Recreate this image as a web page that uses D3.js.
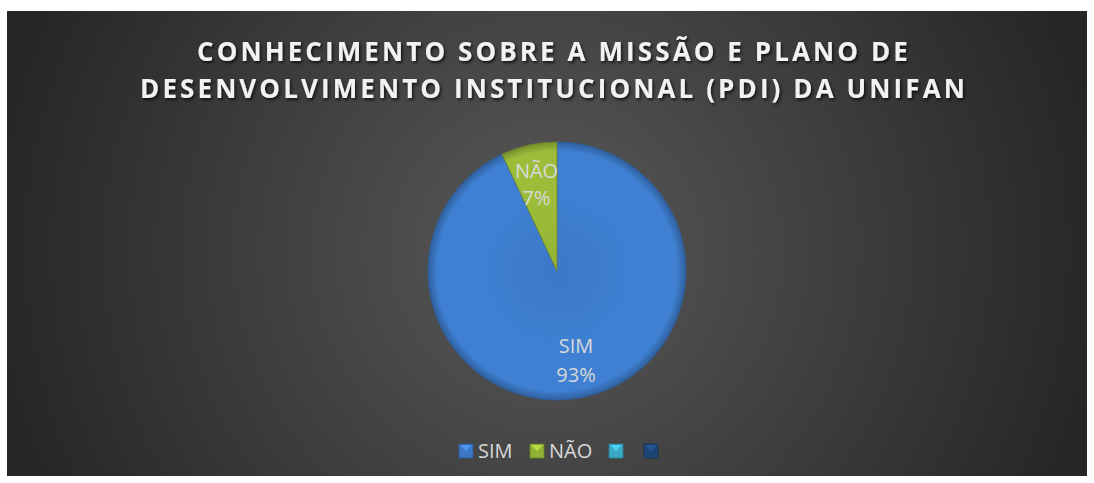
<!DOCTYPE html>
<html><head><meta charset="utf-8">
<script src="https://cdn.jsdelivr.net/npm/d3@7"></script>
<style>html,body{margin:0;padding:0;background:#fff;}svg{display:block;}</style>
</head><body>
<svg id="c" width="1094" height="483"></svg>
<script>
const titleLines = ["CONHECIMENTO SOBRE A MISSÃO E PLANO DE", "DESENVOLVIMENTO INSTITUCIONAL (PDI) DA UNIFAN"];
const categories = ["SIM", "NÃO"];
const values = [93, 7];
const legendLabels = ["SIM", "NÃO", "", ""];
const colors = ["#3f80d2", "#9cbd3a", "#3eb3d2", "#1f4a7e"];

const svg = d3.select("#c");
const defs = svg.append("defs");
const bg = defs.append("radialGradient").attr("id","bg").attr("gradientUnits","userSpaceOnUse")
  .attr("cx",547).attr("cy",250).attr("r",560);
bg.append("stop").attr("offset","0%").attr("stop-color","#595959");
bg.append("stop").attr("offset","100%").attr("stop-color","#262626");
const sh = defs.append("filter").attr("id","tsh").attr("x","-10%").attr("y","-30%").attr("width","120%").attr("height","160%");
sh.append("feDropShadow").attr("dx",1.5).attr("dy",2).attr("stdDeviation",1.5).attr("flood-color","#000").attr("flood-opacity",0.7);

colors.forEach((c,i)=>{
  const g = defs.append("radialGradient").attr("id","sg"+i).attr("gradientUnits","userSpaceOnUse")
    .attr("cx",0).attr("cy",0).attr("r",129);
  g.append("stop").attr("offset","0%").attr("stop-color",d3.color(c).darker(0.15));
  g.append("stop").attr("offset","60%").attr("stop-color",c);
  g.append("stop").attr("offset","93%").attr("stop-color",c);
  g.append("stop").attr("offset","100%").attr("stop-color",d3.color(c).darker(0.8));
});

svg.append("rect").attr("x",7).attr("y",11).attr("width",1080).attr("height",465).attr("fill","url(#bg)");

svg.append("g").selectAll("text").data(titleLines).join("text")
  .attr("x",554).attr("y",(d,i)=>61+i*37)
  .attr("text-anchor","middle")
  .attr("font-family","'Open Sans', sans-serif").attr("font-weight","bold")
  .attr("font-size",26).attr("letter-spacing",3.1)
  .attr("fill","#f2f2f2").attr("filter","url(#tsh)")
  .text(d=>d);

const cx = 557, cy = 271, R = 129;
const pie = d3.pie().sort(null).value(d=>d);
const arcs = pie(values);
const arc = d3.arc().innerRadius(0).outerRadius(R);
const pg = svg.append("g").attr("transform",`translate(${cx},${cy})`);
pg.selectAll("path").data(arcs).join("path")
  .attr("d",arc).attr("fill",(d,i)=>`url(#sg${i})`)
  .attr("stroke",(d,i)=>d3.color(colors[i]).darker(0.9)).attr("stroke-width",0.8);

const labelPos = [[19, 82, 111], [-20.5, -93, -66]];
const lab = pg.selectAll("g.lab").data(arcs).join("g").attr("class","lab");
lab.each(function(d,i){
  const g = d3.select(this);
  const total = d3.sum(values);
  const pct = Math.round(d.data/total*100)+"%";
  [categories[i], pct].forEach((t,j)=>{
    g.append("text").attr("x",labelPos[i][0]).attr("y",labelPos[i][1+j])
      .attr("text-anchor","middle").attr("font-family","'Open Sans', sans-serif")
      .attr("font-size",20).attr("fill","#d9d9d9").text(t);
  });
});

// legend
const lx = [459, 530, 609, 644];
const lg = svg.append("g");
legendLabels.forEach((t,i)=>{
  const g = lg.append("g").attr("transform",`translate(${lx[i]},444)`);
  g.append("rect").attr("width",14).attr("height",14).attr("fill",d3.color(colors[i]).darker(0.2))
    .attr("stroke",d3.color(colors[i]).darker(1)).attr("stroke-width",0.8);
  g.append("path").attr("d","M1,1 L7,7 L13,1 Z").attr("fill",d3.color(colors[i]).brighter(0.6)).attr("opacity",0.8);
  if (t) g.append("text").attr("x",19).attr("y",14).attr("font-family","'Open Sans', sans-serif")
    .attr("font-size",20).attr("fill","#d9d9d9").text(t);
});
</script>
</body></html>
